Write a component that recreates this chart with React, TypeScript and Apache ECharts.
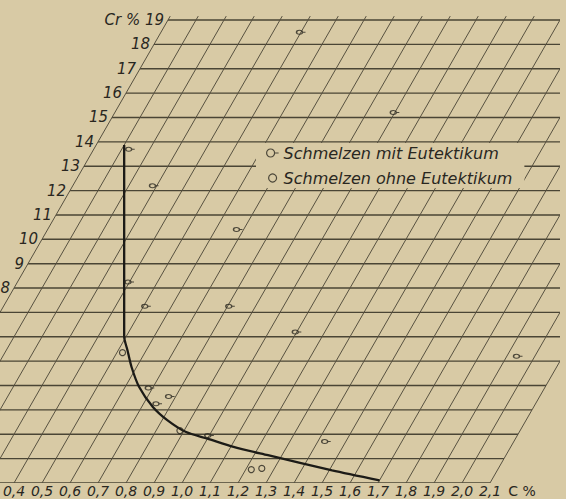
import React, { useEffect, useRef } from "react";
import * as echarts from "echarts";

// oblique grid: each Cr-% step shifts the C-% lines by this many C-%
const SKEW = 0.05;
const C_MAX = 2.1;
const CR_MAX = 19;
const TOP_TICK = 0.16;

const CR_LINES = [0, 1, 2, 3, 4, 5, 6, 7, 8, 9, 10, 11, 12, 13, 14, 15, 16, 17, 18, 19];
const C_LINES = [0.0, 0.1, 0.2, 0.3, 0.4, 0.5, 0.6, 0.7, 0.8, 0.9, 1.0, 1.1, 1.2, 1.3, 1.4, 1.5, 1.6, 1.7, 1.8, 1.9, 2.0, 2.1];

const CR_TICK_VALUES = [8, 9, 10, 11, 12, 13, 14, 15, 16, 17, 18, 19];
const CR_TICK_LABELS = ["8", "9", "10", "11", "12", "13", "14", "15", "16", "17", "18", "Cr % 19"];
const C_TICK_VALUES = [0.4, 0.5, 0.6, 0.7, 0.8, 0.9, 1.0, 1.1, 1.2, 1.3, 1.4, 1.5, 1.6, 1.7, 1.8, 1.9, 2.0, 2.1, 2.2];
const C_TICK_LABELS = ["0,4", "0,5", "0,6", "0,7", "0,8", "0,9", "1,0", "1,1", "1,2", "1,3", "1,4", "1,5", "1,6", "1,7", "1,8", "1,9", "2,0", "2,1", "C %"];

const MIT_NAME = "Schmelzen mit Eutektikum";
const OHNE_NAME = "Schmelzen ohne Eutektikum";

const MIT_C = [0.50, 1.00, 0.13, 0.29, 0.68, 0.40, 0.51, 0.81, 1.10, 1.94, 0.69, 0.78, 0.75, 1.00, 1.43];
const MIT_CR = [18.5, 15.2, 13.7, 12.2, 10.4, 8.25, 7.25, 7.25, 6.2, 5.2, 3.9, 3.55, 3.25, 1.95, 1.7];

const OHNE_C = [0.52, 0.885, 1.22, 1.255];
const OHNE_CR = [5.35, 2.15, 0.55, 0.6];

const CURVE_C = [0.10, 0.2985, 0.4935, 0.532, 0.581, 0.649, 0.74, 0.82, 0.91, 1.00, 1.11, 1.25, 1.51, 1.70];
const CURVE_CR = [13.87, 9.9, 6.0, 5.46, 4.77, 3.95, 3.12, 2.57, 2.09, 1.82, 1.48, 1.14, 0.52, 0.11];

const PAPER = "#d8caa5";
const INK = "#29271f";
const FONT = "'DejaVu Sans', sans-serif";
const MIT_ICON = "path://M3,0A3,3,0,1,1,3,6A3,3,0,1,1,3,0ZM6,3L9,3";

const sk = (c: number, cr: number) => [c + SKEW * cr, cr];

export default function App() {
  const ref = useRef<HTMLDivElement>(null);
  useEffect(() => {
    if (!ref.current) return;
    const chart = echarts.init(ref.current, undefined, { renderer: "svg" });
    const markerStyle = { color: "rgba(0,0,0,0)", borderColor: INK, borderWidth: 1.2 };
    chart.setOption({
      animation: false,
      backgroundColor: PAPER,
      grid: { left: 0, right: 6, top: 16, bottom: 16 },
      xAxis: { type: "value", min: 0.35, max: 2.35, show: false, splitLine: { show: false } },
      yAxis: { type: "value", min: 0, max: 19.164, show: false, splitLine: { show: false } },
      legend: {
        data: [
          { name: MIT_NAME, icon: MIT_ICON },
          { name: OHNE_NAME, icon: "circle" },
        ],
        orient: "vertical",
        left: 256,
        top: 143,
        itemWidth: 12,
        itemHeight: 8,
        itemGap: 9,
        padding: [2, 12, 2, 10],
        backgroundColor: PAPER,
        itemStyle: markerStyle,
        textStyle: { color: INK, fontSize: 16, fontStyle: "italic", fontFamily: FONT, lineHeight: 16 },
      },
      series: [
        {
          type: "custom",
          name: "h-lines",
          clip: true,
          silent: true,
          z: 1,
          data: CR_LINES.map((cr) => sk(0, cr)),
          renderItem: (_p: any, api: any) => {
            const cr = api.value(1);
            const a = api.coord(sk(0, cr));
            const b = api.coord(sk(C_MAX, cr));
            return {
              type: "line",
              shape: { x1: a[0], y1: a[1], x2: b[0], y2: b[1] },
              style: { stroke: "#4a4535", lineWidth: 1.4 },
            };
          },
        },
        {
          type: "custom",
          name: "o-lines",
          clip: true,
          silent: true,
          z: 1,
          data: C_LINES.map((c) => sk(c, 0)),
          renderItem: (_p: any, api: any) => {
            const c = api.value(0);
            const a = api.coord(sk(c, 0));
            const b = api.coord(sk(c, CR_MAX + TOP_TICK));
            return {
              type: "line",
              shape: { x1: a[0], y1: a[1], x2: b[0], y2: b[1] },
              style: { stroke: "#575140", lineWidth: 1 },
            };
          },
        },
        {
          type: "custom",
          name: "cr-labels",
          clip: false,
          silent: true,
          data: CR_TICK_VALUES.map((cr) => sk(0, cr)),
          renderItem: (p: any, api: any) => {
            const cr = api.value(1);
            const a = api.coord(sk(0, cr));
            return {
              type: "text",
              x: a[0] - 4,
              y: a[1],
              style: {
                text: CR_TICK_LABELS[p.dataIndex],
                fill: INK,
                fontSize: 15,
                fontStyle: "italic",
                fontFamily: FONT,
                align: "right",
                verticalAlign: "middle",
              },
            };
          },
        },
        {
          type: "custom",
          name: "c-labels",
          clip: false,
          silent: true,
          data: C_TICK_VALUES.map((c) => sk(c, 0)),
          renderItem: (p: any, api: any) => {
            const c = api.value(0);
            const a = api.coord(sk(c, 0));
            const last = p.dataIndex === C_TICK_VALUES.length - 1;
            return {
              type: "text",
              x: a[0] + (last ? 4 : 0),
              y: a[1] + 1,
              style: {
                text: C_TICK_LABELS[p.dataIndex],
                fill: INK,
                fontSize: 14,
                lineHeight: 14,
                fontStyle: last ? "normal" : "italic",
                fontFamily: FONT,
                align: "center",
                verticalAlign: "top",
              },
            };
          },
        },
        {
          type: "line",
          name: "Grenzkurve",
          data: CURVE_C.map((c, i) => sk(c, CURVE_CR[i])),
          smooth: 0.25,
          showSymbol: false,
          symbol: "none",
          silent: true,
          z: 3,
          lineStyle: { color: "#1c1b17", width: 2.3 },
        },
        {
          type: "scatter",
          name: MIT_NAME,
          symbol: MIT_ICON,
          symbolSize: [9, 6],
          symbolKeepAspect: true,
          z: 4,
          itemStyle: markerStyle,
          data: MIT_C.map((c, i) => sk(c, MIT_CR[i])),
        },
        {
          type: "scatter",
          name: OHNE_NAME,
          symbol: "circle",
          symbolSize: 6,
          z: 4,
          itemStyle: markerStyle,
          data: OHNE_C.map((c, i) => sk(c, OHNE_CR[i])),
        },
      ],
    });
    return () => chart.dispose();
  }, []);
  return (
    <div
      ref={ref}
      style={{ position: "absolute", left: 0, top: 0, width: 566, height: 499, background: PAPER }}
    />
  );
}
